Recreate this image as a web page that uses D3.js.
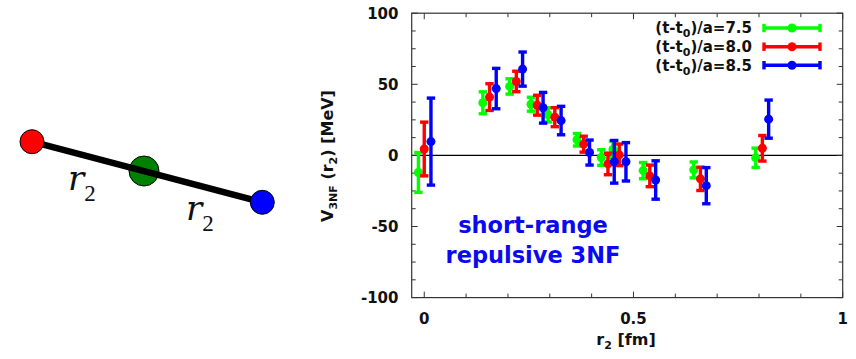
<!DOCTYPE html>
<html>
<head>
<meta charset="utf-8">
<script src="https://cdn.jsdelivr.net/npm/d3@7"></script>
<style>
  html, body { margin: 0; padding: 0; background: #fff; }
  svg { display: block; }
</style>
</head>
<body>
<svg id="chart" width="856" height="359"></svg>
<script>
// ---- data ----
const seriesNames = ["7.5", "8.0", "8.5"];
const seriesColors = ["#00ff00", "#ff0000", "#0000ff"];

const r75 = [-0.014, 0.140, 0.204, 0.255, 0.296, 0.365, 0.423, 0.451, 0.523, 0.644, 0.792];
const v75 = [-12, 37, 48.5, 36, 28.5, 11, -1.5, 4.4, -10.7, -10.2, -1.7];
const e75 = [14, 7.7, 5.4, 4.9, 5, 4.4, 5.5, 5.7, 5.7, 5.6, 6.8];

const r80 = [0.000, 0.156, 0.220, 0.270, 0.312, 0.381, 0.439, 0.466, 0.539, 0.660, 0.808];
const v80 = [4.5, 41, 52, 35.3, 26.9, 7.9, -6, 0.4, -14.4, -16.5, 5];
const e80 = [18.9, 9.4, 7.2, 7, 6.7, 5.6, 7.6, 7.6, 7.6, 8.2, 9];

const r85 = [0.016, 0.172, 0.235, 0.284, 0.327, 0.395, 0.454, 0.482, 0.553, 0.674, 0.823];
const v85 = [9.7, 47, 60.7, 33.5, 24.5, 2, -4.5, -4.5, -17.3, -21.3, 25.5];
const e85 = [30.6, 14.2, 12, 10.8, 10, 8.8, 15, 13.5, 13.5, 12.7, 13.4];

const xMajorTicks = [0, 0.5, 1];
const xMinorTicks = [0.1, 0.2, 0.3, 0.4, 0.6, 0.7, 0.8, 0.9];
const yMajorTicks = [-100, -50, 0, 50, 100];
const yMinorTicks = [-87.5, -75, -62.5, -37.5, -25, -12.5, 12.5, 25, 37.5, 62.5, 75, 87.5];

const series = [
  {name: seriesNames[0], color: seriesColors[0], r: r75, v: v75, e: e75},
  {name: seriesNames[1], color: seriesColors[1], r: r80, v: v80, e: e80},
  {name: seriesNames[2], color: seriesColors[2], r: r85, v: v85, e: e85}
];

// ---- layout ----
const svg = d3.select("#chart");
const L = 411.7, R = 842.7, T = 13.2, B = 297.6;
const x = d3.scaleLinear().domain([-0.03, 1.0]).range([L, R]);
const y = d3.scaleLinear().domain([-100, 100]).range([B, T]);

const FONT = "'DejaVu Sans', sans-serif";

// ---- left diagram ----
const diag = svg.append("g");
const pRed = [32, 141.7], pGreen = [144, 171], pBlue = [262.3, 202.3];
diag.append("circle").attr("cx", pGreen[0]).attr("cy", pGreen[1]).attr("r", 15)
  .attr("fill", "#008000").attr("stroke", "#000").attr("stroke-width", 1);
diag.append("line").attr("x1", pRed[0]).attr("y1", pRed[1]).attr("x2", pBlue[0]).attr("y2", pBlue[1])
  .attr("stroke", "#000").attr("stroke-width", 6.5);
diag.append("circle").attr("cx", pRed[0]).attr("cy", pRed[1]).attr("r", 12)
  .attr("fill", "#ff0000").attr("stroke", "#000").attr("stroke-width", 1);
diag.append("circle").attr("cx", pBlue[0]).attr("cy", pBlue[1]).attr("r", 12)
  .attr("fill", "#0000ff").attr("stroke", "#000").attr("stroke-width", 1);

function rLabel(px, py) {
  const t = diag.append("text").attr("x", px).attr("y", py)
    .attr("font-family", "'DejaVu Serif', serif").attr("font-style", "italic")
    .attr("font-size", 34).attr("fill", "#111");
  t.append("tspan").text("r");
  t.append("tspan").attr("font-style", "normal").attr("font-family", "'Liberation Serif', serif")
    .attr("font-size", 23).attr("dy", 11).text("2");
}
rLabel(68, 190);
rLabel(186, 220);

// ---- plot frame and axes ----
const g = svg.append("g");

// zero line
g.append("line").attr("x1", L).attr("x2", R).attr("y1", y(0)).attr("y2", y(0))
  .attr("stroke", "#000").attr("stroke-width", 1.4);

// ticks (inward, mirrored)
function hTick(v, len) {
  g.append("line").attr("x1", x(v)).attr("x2", x(v)).attr("y1", B).attr("y2", B - len).attr("stroke", "#333");
  g.append("line").attr("x1", x(v)).attr("x2", x(v)).attr("y1", T).attr("y2", T + len).attr("stroke", "#333");
}
function vTick(v, len) {
  g.append("line").attr("y1", y(v)).attr("y2", y(v)).attr("x1", L).attr("x2", L + len).attr("stroke", "#333");
  g.append("line").attr("y1", y(v)).attr("y2", y(v)).attr("x1", R).attr("x2", R - len).attr("stroke", "#333");
}
xMajorTicks.forEach(v => hTick(v, 6));
xMinorTicks.forEach(v => hTick(v, 4));
yMajorTicks.forEach(v => vTick(v, 6));
yMinorTicks.forEach(v => vTick(v, 4));

g.append("rect").attr("x", L).attr("y", T).attr("width", R - L).attr("height", B - T)
  .attr("fill", "none").attr("stroke", "#333").attr("stroke-width", 1.2);

// tick labels
g.selectAll(".xl").data(xMajorTicks).enter().append("text")
  .attr("x", d => x(d)).attr("y", 323.5).attr("text-anchor", "middle")
  .attr("font-family", FONT).attr("font-weight", "bold").attr("font-size", 15).attr("fill", "#111")
  .text(d => d3.format("~g")(d));
g.selectAll(".yl").data(yMajorTicks).enter().append("text")
  .attr("x", 398.5).attr("y", d => y(d)).attr("dy", "0.36em").attr("text-anchor", "end")
  .attr("font-family", FONT).attr("font-weight", "bold").attr("font-size", 15).attr("fill", "#111")
  .text(d => d);

// axis titles
const xt = g.append("text").attr("x", 626).attr("y", 345).attr("text-anchor", "middle")
  .attr("font-family", FONT).attr("font-weight", "bold").attr("font-size", 16).attr("fill", "#111");
xt.append("tspan").text("r");
xt.append("tspan").attr("font-size", 11).attr("dy", 4).text("2");
xt.append("tspan").attr("dy", -4).text(" [fm]");

const yt = g.append("text").attr("transform", "translate(333,156) rotate(-90)").attr("text-anchor", "middle")
  .attr("font-family", FONT).attr("font-weight", "bold").attr("font-size", 16).attr("fill", "#111");
yt.append("tspan").text("V");
yt.append("tspan").attr("font-size", 11).attr("dy", 4).text("3NF");
yt.append("tspan").attr("dy", -4).text(" (r");
yt.append("tspan").attr("font-size", 11).attr("dy", 4).text("2");
yt.append("tspan").attr("dy", -4).text(") [MeV]");

// ---- data marks ----
const capW = 4.2;
const SW = 3.4;
series.forEach(s => {
  const sg = g.append("g");
  const pts = s.r.map((rv, i) => ({r: rv, v: s.v[i], e: s.e[i]}));
  sg.selectAll(".bar").data(pts).enter().append("line")
    .attr("x1", d => x(d.r)).attr("x2", d => x(d.r))
    .attr("y1", d => y(d.v + d.e)).attr("y2", d => y(d.v - d.e))
    .attr("stroke", s.color).attr("stroke-width", SW);
  sg.selectAll(".capt").data(pts).enter().append("line")
    .attr("x1", d => x(d.r) - capW).attr("x2", d => x(d.r) + capW)
    .attr("y1", d => y(d.v + d.e)).attr("y2", d => y(d.v + d.e))
    .attr("stroke", s.color).attr("stroke-width", SW);
  sg.selectAll(".capb").data(pts).enter().append("line")
    .attr("x1", d => x(d.r) - capW).attr("x2", d => x(d.r) + capW)
    .attr("y1", d => y(d.v - d.e)).attr("y2", d => y(d.v - d.e))
    .attr("stroke", s.color).attr("stroke-width", SW);
  sg.selectAll(".pt").data(pts).enter().append("circle")
    .attr("cx", d => x(d.r)).attr("cy", d => y(d.v)).attr("r", 4.5)
    .attr("fill", s.color);
});

// ---- legend ----
const legY = [28, 46.7, 65.2];
series.forEach((s, i) => {
  const lg = g.append("g");
  const t = lg.append("text").attr("x", 752).attr("y", legY[i]).attr("dy", "0.36em").attr("text-anchor", "end")
    .attr("font-family", FONT).attr("font-weight", "bold").attr("font-size", 15).attr("fill", "#111");
  t.append("tspan").text("(t-t");
  t.append("tspan").attr("font-size", 11).attr("dy", 4).text("0");
  t.append("tspan").attr("dy", -4).text(")/a=" + s.name);
  lg.append("line").attr("x1", 764).attr("x2", 820).attr("y1", legY[i]).attr("y2", legY[i])
    .attr("stroke", s.color).attr("stroke-width", SW);
  [764, 820].forEach(cx => lg.append("line").attr("x1", cx).attr("x2", cx)
    .attr("y1", legY[i] - 4.2).attr("y2", legY[i] + 4.2).attr("stroke", s.color).attr("stroke-width", SW));
  lg.append("circle").attr("cx", 792).attr("cy", legY[i]).attr("r", 4.5).attr("fill", s.color);
});

// ---- annotation ----
const ann = svg.append("g").attr("font-family", FONT).attr("font-weight", "bold")
  .attr("font-size", 22.5).attr("fill", "#0a0af0").attr("text-anchor", "middle");
ann.append("text").attr("x", 533).attr("y", 233).text("short-range");
ann.append("text").attr("x", 533).attr("y", 263).text("repulsive 3NF");
</script>
</body>
</html>
